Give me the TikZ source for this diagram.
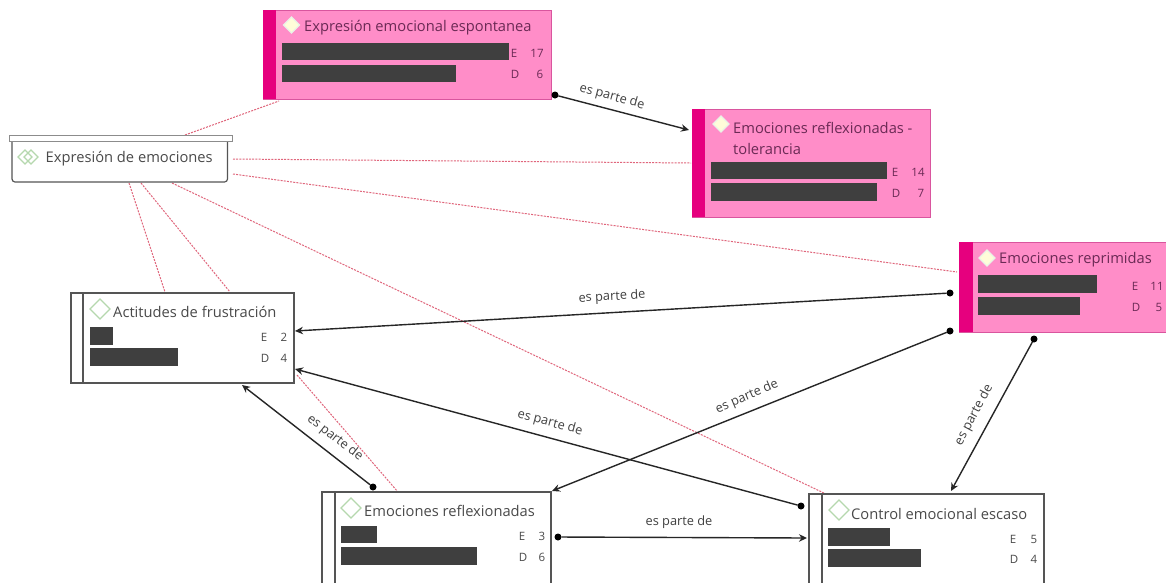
\documentclass[tikz,border=0pt]{standalone}
\usepackage{fontspec}
\setmainfont{Open Sans}
\usetikzlibrary{arrows.meta,calc}
\definecolor{pinkfill}{HTML}{FF8DC8}
\definecolor{pinkedge}{HTML}{D9559E}
\definecolor{magstrip}{HTML}{E6007E}
\definecolor{barcol}{HTML}{3F3F3F}
\definecolor{pinktext}{HTML}{6B2A55}
\definecolor{greytext}{HTML}{4A4A4A}
\definecolor{edgegrey}{HTML}{555555}
\definecolor{dashred}{HTML}{E0667C}
\definecolor{diagreen}{HTML}{B5D8AE}
\tikzset{
  x=1pt,y=-1pt,
  pinkbox/.style={draw=pinkedge,fill=pinkfill,line width=1pt,anchor=north west,inner sep=0pt,outer sep=0pt},
  whitebox/.style={draw=edgegrey,fill=white,line width=1.2pt,anchor=north west,inner sep=0pt,outer sep=0pt},
  titletext/.style={anchor=west,inner sep=0pt,yshift=-1.5pt,font=\fontsize{14.7}{18}\selectfont,text=greytext},
  pinktitle/.style={titletext,text=pinktext},
  counttext/.style={anchor=center,inner sep=0pt,font=\fontsize{11.5}{13}\selectfont,text=greytext},
  pinkcount/.style={counttext,text=pinktext},
  rel/.style={draw=black!85,line width=1.4pt,-{Stealth[length=8pt,width=7.5pt]}},
  dotend/.style={circle,fill=black,inner sep=0pt,minimum size=7pt,outer sep=0pt},
  rellabel/.style={inner sep=0pt,font=\fontsize{12.8}{15}\selectfont,text=black!75},
  assoc/.style={draw=dashred,line width=1pt,dash pattern=on 2pt off 1.2pt},
  barfill/.style={fill=barcol},
  dia/.style={draw=diagreen,line width=1.1pt,fill=white},
  diaopen/.style={draw=diagreen,line width=1.2pt},
  diapink/.style={draw=white!70!diagreen,line width=1.1pt,fill=white!85!yellow},
}
\newcommand{\rowbar}[4]{\fill[barfill] (#1,#2) rectangle (#3,#4);}
\newcommand{\diamondmark}[4][dia]{\draw[#1] (#2-#4,#3) -- (#2,#3-#4) -- (#2+#4,#3) -- (#2,#3+#4) -- cycle;}
\begin{document}
\begin{tikzpicture}
\useasboundingbox[fill=white] (0,0) rectangle (1166,582);

% dashed associations (under the boxes)
\coordinate (assocA1) at (185,135); \coordinate (assocA2) at (279,101);
\coordinate (assocB1) at (233,159); \coordinate (assocB2) at (691,163);
\coordinate (assocC1) at (233,174); \coordinate (assocC2) at (957,272);
\coordinate (assocD1) at (172,183); \coordinate (assocD2) at (826,494);
\coordinate (assocE1) at (129,183); \coordinate (assocE2) at (165,292);
\coordinate (assocF1) at (141,183); \coordinate (assocF2) at (230,292);
\coordinate (assocG1) at (297,375); \coordinate (assocG2) at (398,492);
\foreach \n in {A,B,C,D,E,F,G}{\draw[assoc] (assoc\n1) -- (assoc\n2);}

% Expresion emocional espontanea
\node[pinkbox,minimum width=288pt,minimum height=89pt] (esp) at (263,10) {};
\fill[magstrip] (263,10) rectangle (276,99);
\diamondmark[diapink]{291.5}{25}{8}
\node[pinktitle] (espT) at (304,26) {Expresión emocional espontanea};
\rowbar{282}{43}{509}{60}
\rowbar{282}{65}{456}{82}
\node[pinkcount] (espE) at (514,53) {E};
\node[pinkcount] (espEn) at (537,53) {17};
\node[pinkcount] (espD) at (515,74) {D};
\node[pinkcount] (espDn) at (540,74) {6};

% Emociones reflexionadas - tolerancia
\node[pinkbox,minimum width=238pt,minimum height=108pt] (tol) at (692,109) {};
\fill[magstrip] (692,109) rectangle (705,217);
\diamondmark[diapink]{721}{124}{8}
\node[pinktitle] (tolT) at (733,126) {Emociones reflexionadas -};
\node[pinktitle] (tolT2) at (733,147) {tolerancia};
\rowbar{711}{162}{887}{179}
\rowbar{711}{183}{877}{201}
\node[pinkcount] (tolE) at (895,172) {E};
\node[pinkcount] (tolEn) at (918,172) {14};
\node[pinkcount] (tolD) at (896,193) {D};
\node[pinkcount] (tolDn) at (921,193) {7};

% Emociones reprimidas
\node[pinkbox,minimum width=207pt,minimum height=90pt] (rep) at (959,242) {};
\fill[magstrip] (959,242) rectangle (972.5,332);
\diamondmark[diapink]{987}{258}{8}
\node[pinktitle] (repT) at (999,258) {Emociones reprimidas};
\rowbar{978}{275}{1097}{293}
\rowbar{978}{297}{1080}{315}
\node[pinkcount] (repE) at (1135,286) {E};
\node[pinkcount] (repEn) at (1157,286) {11};
\node[pinkcount] (repD) at (1136,307) {D};
\node[pinkcount] (repDn) at (1159,307) {5};

% Expresion de emociones
\draw[draw=edgegrey,line width=1.2pt,fill=white,rounded corners=3pt] (12,136) -- (12,182) -- (227.5,182) -- (227.5,136);
\node[draw=black!45,fill=white,line width=1pt,anchor=north west,inner sep=0pt,minimum width=223pt,minimum height=6pt] (expBand) at (9,135) {};
\diamondmark[diaopen]{25}{157}{7}
\diamondmark[diaopen]{31}{157}{7}
\node[titletext] (expT) at (45.5,157) {Expresión de emociones};

% Actitudes de frustracion
\node[whitebox,minimum width=223pt,minimum height=90pt] (act) at (71,293) {};
\draw[edgegrey,line width=1.2pt] (83,293) -- (83,383);
\diamondmark{100}{309}{10}
\node[titletext] (actT) at (113,310) {Actitudes de frustración};
\rowbar{90}{327}{113}{345}
\rowbar{90}{348}{178}{366}
\node[counttext] (actE) at (264,337) {E};
\node[counttext] (actEn) at (284,337) {2};
\node[counttext] (actD) at (265,358) {D};
\node[counttext] (actDn) at (284,358) {4};

% Emociones reflexionadas
\node[whitebox,minimum width=229pt,minimum height=92pt] (ref) at (322,492) {};
\draw[edgegrey,line width=1.2pt] (335,492) -- (335,584);
\diamondmark{351}{508}{10}
\node[titletext] (refT) at (364,509) {Emociones reflexionadas};
\rowbar{341}{526}{377}{543}
\rowbar{341}{547}{477}{565}
\node[counttext] (refE) at (522,536) {E};
\node[counttext] (refEn) at (542,536) {3};
\node[counttext] (refD) at (523,557) {D};
\node[counttext] (refDn) at (542,557) {6};

% Control emocional escaso
\node[whitebox,minimum width=235pt,minimum height=90pt] (con) at (809,494) {};
\draw[edgegrey,line width=1.2pt] (822,494) -- (822,584);
\diamondmark{839}{510}{10}
\node[titletext] (conT) at (851,512) {Control emocional escaso};
\rowbar{828}{528}{890}{546}
\rowbar{828}{549}{921}{567}
\node[counttext] (conE) at (1013,539) {E};
\node[counttext] (conEn) at (1034,539) {5};
\node[counttext] (conD) at (1014,559) {D};
\node[counttext] (conDn) at (1034,559) {4};

% connector ends
\node[dotend] (s1) at (555,95) {};
\node[dotend] (s2) at (950,293) {};
\node[dotend] (s3) at (950,331) {};
\node[dotend] (s4) at (1034,339) {};
\node[dotend] (s5) at (801,506) {};
\node[dotend] (s6) at (373,487) {};
\node[dotend] (s7) at (558,537) {};
\coordinate (t1) at (689,130);
\coordinate (t2) at (295,331);
\coordinate (t3) at (552,491);
\coordinate (t4) at (951,491);
\coordinate (t5) at (295,369);
\coordinate (t6) at (242,385);
\coordinate (t7) at (807,538);
\foreach \n in {1,...,7}{\draw[rel] (s\n) -- (t\n);}

% connector labels
\node[rellabel,rotate=-15] (l1) at (612,97) {es parte de};
\node[rellabel,rotate=3] (l2) at (612,297) {es parte de};
\node[rellabel,rotate=23] (l3) at (747,397) {es parte de};
\node[rellabel,rotate=62] (l4) at (974,415) {es parte de};
\node[rellabel,rotate=-15] (l5) at (550,423) {es parte de};
\node[rellabel,rotate=-38] (l6) at (335,438) {es parte de};
\node[rellabel] (l7) at (679,522) {es parte de};
\end{tikzpicture}
\end{document}
